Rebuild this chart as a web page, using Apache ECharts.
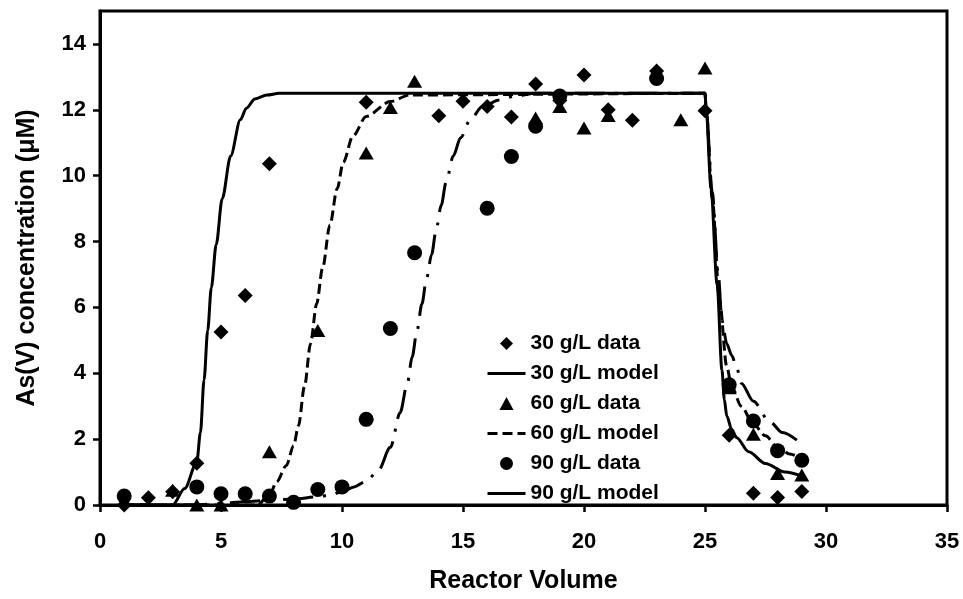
<!DOCTYPE html>
<html>
<head>
<meta charset="utf-8">
<script src="https://cdn.jsdelivr.net/npm/echarts@6/dist/echarts.min.js"></script>
<style>
html,body{margin:0;padding:0;background:#fff;}
#chart{width:963px;height:599px;}
</style>
</head>
<body>
<div id="chart"></div>
<script>
// ---- data ----
const x30 = [1,2,3,4,5,6,7,11,14,15,16,17,18,19,20,21,22,23,25,26,27,28,29];
const y30 = [0.0,0.22,0.4,1.27,5.25,6.36,10.36,12.23,11.82,12.26,12.1,11.78,12.78,12.28,13.06,12.0,11.68,13.18,11.97,2.12,0.36,0.23,0.41];

const x60 = [3,4,5,7,9,11,12,13,18,19,20,21,24,25,26,27,28,29];
const y60 = [0.45,0.0,0.0,1.62,5.3,10.69,12.07,12.87,11.75,12.1,11.45,11.83,11.7,13.27,3.56,2.15,0.96,0.91];

const x90 = [1,4,5,6,7,8,9,10,11,12,13,16,17,18,19,23,26,27,28,29];
const y90 = [0.27,0.55,0.34,0.34,0.27,0.08,0.47,0.55,2.6,5.36,7.66,9.01,10.58,11.5,12.42,12.95,3.65,2.55,1.65,1.36];

const mx30 = [1,3,3.5,4,4.15,4.3,4.45,4.6,4.8,5.05,5.4,5.8,6.05,6.4,6.9,7.4,25,25.05,25.25,25.5,25.7,25.8,25.9,26.1,26.3,26.8,27.5,28.3,29];
const my30 = [0,0,0.5,1.3,2.2,3.8,5.3,6.6,7.9,9.3,10.6,11.7,12.05,12.33,12.45,12.5,12.5,12.0,9.6,6.7,4.1,3.2,2.7,2.3,2.05,1.62,1.26,1.0,0.88];

const mx60 = [1,6.5,7,7.3,7.7,8.0,8.2,8.45,8.7,8.95,9.2,9.5,9.8,10.05,10.45,11.0,12.0,12.8,25,25.05,25.3,25.6,25.9,26.1,26.5,27,27.5,28,28.5,29];
const my60 = [0,0,0.3,0.7,1.2,1.8,2.4,3.6,4.9,6.1,7.2,8.5,9.6,10.4,11.2,11.8,12.25,12.45,12.5,12.0,9.3,6.2,4.2,3.6,3.0,2.45,2.1,1.75,1.55,1.4];

const mx90 = [1,4,5,6,7,8,9,9.5,10,10.5,11,11.5,12,12.4,12.7,12.9,13.1,13.3,13.5,13.7,13.9,14.1,14.3,14.6,14.9,15.3,15.8,16.5,17.2,18,25,25.05,25.3,25.55,25.7,25.9,26.1,26.3,26.5,27,27.65,28.2,29];
const my90 = [0,0,0.05,0.1,0.14,0.18,0.25,0.3,0.4,0.55,0.72,1.05,1.75,2.8,3.7,4.5,5.3,6.1,6.9,7.6,8.4,9.1,9.8,10.6,11.15,11.7,12.1,12.3,12.42,12.5,12.5,12.0,9.5,7.0,5.6,4.9,4.55,4.2,3.7,3.15,2.55,2.2,1.85];

const names = ['30 g/L data','30 g/L model','60 g/L data','60 g/L model','90 g/L data','90 g/L model'];
const xTicks = {min:0, max:35, step:5};
const yTicks = {min:0, max:15, step:2};

const zip = (xs, ys) => xs.map((x, i) => [x, ys[i]]);
const FONT = "'Liberation Sans', Arial, sans-serif";
const hideSym = {opacity:0};
const diamondIcon = 'path://M6,0 L12,6 L6,12 L0,6 Z';
const triangleIcon = 'path://M6.5,0 L13,12 L0,12 Z';

const chart = echarts.init(document.getElementById('chart'), null, {renderer:'canvas'});
chart.setOption({
  animation: false,
  backgroundColor: '#fff',
  grid: {left:100, right:16, top:11, bottom:87, show:true, borderColor:'#000', borderWidth:3, containLabel:false},
  xAxis: {
    type:'value', min:xTicks.min, max:xTicks.max, interval:xTicks.step,
    name:'Reactor Volume', nameLocation:'middle', nameGap:64,
    nameTextStyle:{fontFamily:FONT, fontWeight:'bold', fontSize:25, color:'#000'},
    axisLine:{show:true, lineStyle:{color:'#000', width:3}},
    axisTick:{show:true, inside:false, length:7, lineStyle:{color:'#000', width:2.5}},
    axisLabel:{fontFamily:FONT, fontWeight:'bold', fontSize:22, color:'#000', margin:26},
    splitLine:{show:false}
  },
  yAxis: {
    type:'value', min:yTicks.min, max:yTicks.max, interval:yTicks.step,
    name:'As(V) concentration (μM)', nameLocation:'middle', nameGap:60,
    nameTextStyle:{fontFamily:FONT, fontWeight:'bold', fontSize:25, color:'#000'},
    axisLine:{show:true, lineStyle:{color:'#000', width:3}},
    axisTick:{show:true, inside:false, length:7, lineStyle:{color:'#000', width:2.5}},
    axisLabel:{fontFamily:FONT, fontWeight:'bold', fontSize:22, color:'#000', margin:14, showMaxLabel:false},
    splitLine:{show:false}
  },
  legend: {
    orient:'vertical', left:481, top:328, itemWidth:38, itemHeight:13, itemGap:9,
    symbolKeepAspect:true,
    textStyle:{fontFamily:FONT, fontWeight:'bold', fontSize:21, color:'#000'},
    data:[
      {name:names[0], icon:diamondIcon},
      {name:names[1], itemStyle:hideSym, lineStyle:{width:3}},
      {name:names[2], icon:triangleIcon},
      {name:names[3], itemStyle:hideSym, lineStyle:{width:3, type:[10,5]}},
      {name:names[4], icon:'circle'},
      {name:names[5], itemStyle:hideSym, lineStyle:{width:3, type:'solid'}}
    ]
  },
  series: [
    {name:names[0], type:'scatter', data:zip(x30,y30), symbol:'diamond', symbolSize:15, itemStyle:{color:'#000', opacity:1}, z:5, clip:false},
    {name:names[1], type:'line', data:zip(mx30,my30), symbol:'none', smooth:0.3, smoothMonotone:'x',
     lineStyle:{color:'#000', width:3, type:'solid'}, itemStyle:{color:'#000'}, z:3},
    {name:names[2], type:'scatter', data:zip(x60,y60), symbol:'triangle', symbolSize:[15,13], itemStyle:{color:'#000', opacity:1}, z:5, clip:false},
    {name:names[3], type:'line', data:zip(mx60,my60), symbol:'none', smooth:0.3, smoothMonotone:'x',
     lineStyle:{color:'#000', width:3, type:[10,5]}, itemStyle:{color:'#000'}, z:3},
    {name:names[4], type:'scatter', data:zip(x90,y90), symbol:'circle', symbolSize:15, itemStyle:{color:'#000', opacity:1}, z:5, clip:false},
    {name:names[5], type:'line', data:zip(mx90,my90), symbol:'none', smooth:0.3, smoothMonotone:'x',
     lineStyle:{color:'#000', width:3, type:[30,10,3,10]}, itemStyle:{color:'#000'}, z:3}
  ]
});
</script>
</body>
</html>
